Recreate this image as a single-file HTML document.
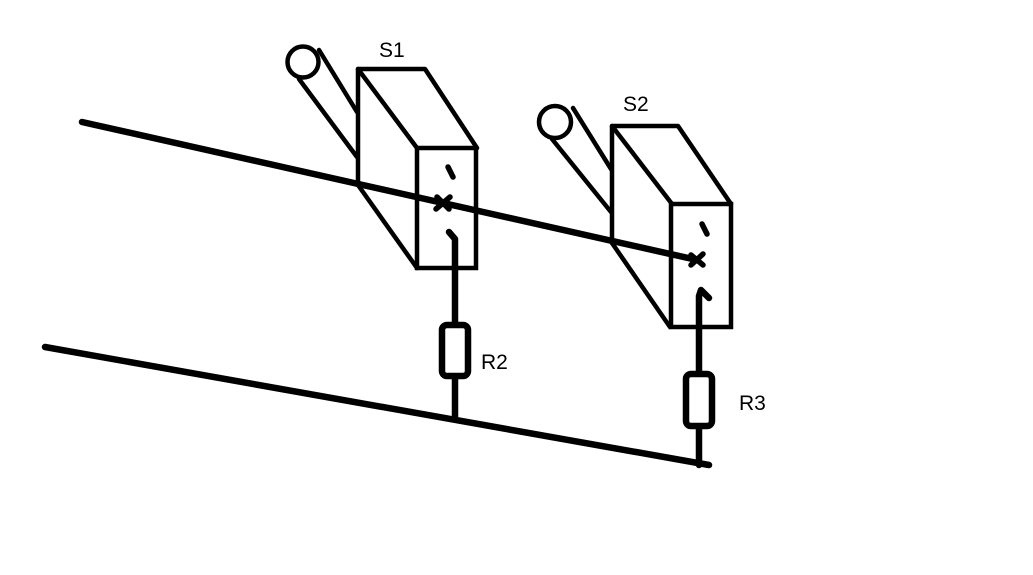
<!DOCTYPE html>
<html>
<head>
<meta charset="utf-8">
<style>
html,body{margin:0;padding:0;background:#fff;}
svg{display:block;}
text{font-family:"Liberation Sans",sans-serif;font-size:21px;fill:#000;}
</style>
</head>
<body>
<svg width="1033" height="575" viewBox="0 0 1033 575" xmlns="http://www.w3.org/2000/svg">
<rect x="0" y="0" width="1033" height="575" fill="#fff"/>
<g stroke="#000" fill="none" stroke-width="4.5" stroke-linecap="round" stroke-linejoin="round">
  <!-- S1 -->
  <circle cx="303" cy="62" r="15.5"/>
  <line x1="319" y1="50" x2="357" y2="112"/>
  <line x1="299" y1="79" x2="357" y2="157"/>
  <polyline points="358,185 358,69 425,69 477,148"/>
  <line x1="358" y1="69" x2="417" y2="148"/>
  <line x1="358" y1="185" x2="417" y2="268"/>
  <rect x="417" y="148" width="59" height="120" stroke-linejoin="miter"/>
  <!-- S2 -->
  <circle cx="555" cy="122" r="16"/>
  <line x1="573" y1="108" x2="611" y2="169"/>
  <line x1="552" y1="139" x2="611" y2="212"/>
  <polyline points="612,243 612,126 678,126 731,204"/>
  <line x1="612" y1="126" x2="672" y2="204"/>
  <line x1="612" y1="243" x2="670" y2="327"/>
  <rect x="671" y="204" width="60" height="123" stroke-linejoin="miter"/>
</g>
<g stroke="#000" fill="none" stroke-linecap="round" stroke-linejoin="round">
  <!-- main lines -->
  <line x1="82" y1="122" x2="697" y2="260" stroke-width="6.5"/>
  <line x1="45" y1="347" x2="709" y2="465" stroke-width="6.5"/>
  <!-- S1 contacts -->
  <line x1="448" y1="167" x2="453" y2="177" stroke-width="5.5"/>
  <line x1="436" y1="209" x2="450" y2="197" stroke-width="5.5"/>
  <line x1="437" y1="197" x2="449" y2="209" stroke-width="5.5"/>
  <polyline points="449,232 455,239 455,322" stroke-width="6.5"/>
  <line x1="455" y1="378" x2="455" y2="418" stroke-width="6.5"/>
  <rect x="442" y="325" width="26" height="51" rx="5" stroke-width="6.5"/>
  <!-- S2 contacts -->
  <line x1="702" y1="224" x2="707" y2="234" stroke-width="5.5"/>
  <line x1="691" y1="265" x2="703" y2="254" stroke-width="5.5"/>
  <line x1="691" y1="255" x2="703" y2="265" stroke-width="5.5"/>
  <polyline points="709,298 701,290 699,296 699,373" stroke-width="6.5"/>
  <line x1="699" y1="427" x2="699" y2="465" stroke-width="6.5"/>
  <rect x="686" y="374" width="26" height="52" rx="5" stroke-width="6.5"/>
</g>
<text x="379" y="57">S1</text>
<text x="623" y="111">S2</text>
<text x="481" y="369">R2</text>
<text x="739" y="410">R3</text>
</svg>
</body>
</html>
